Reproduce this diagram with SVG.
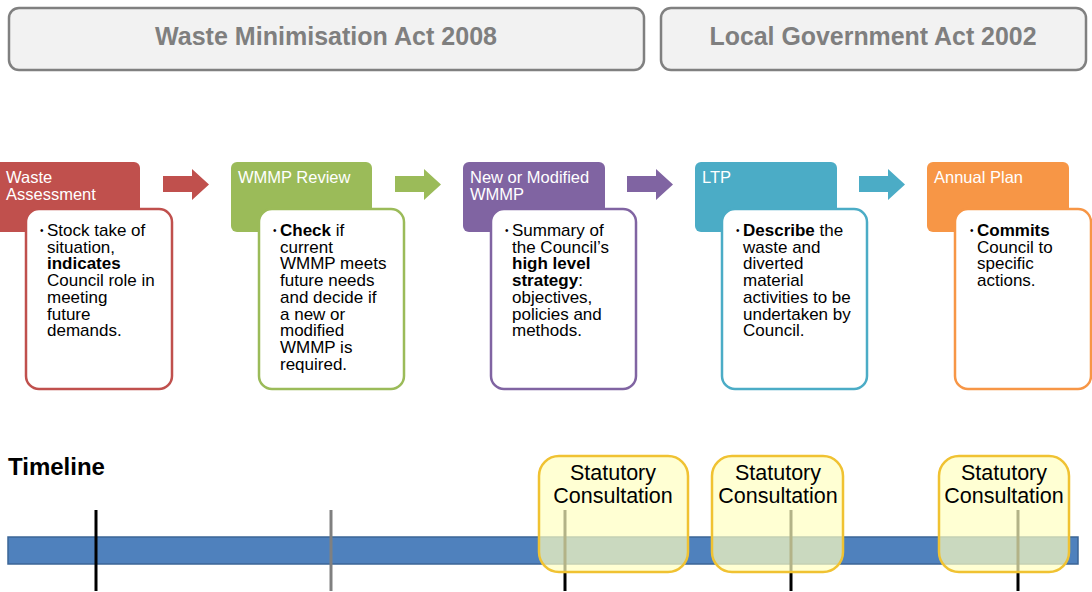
<svg xmlns="http://www.w3.org/2000/svg" width="1092" height="592" viewBox="0 0 1092 592">
<style>
.act{fill:#f2f2f2;stroke:#808080;stroke-width:2.5}
.acttxt{font-family:"Liberation Sans",Arial,sans-serif;font-weight:bold;font-size:25px;fill:#7f7f7f;text-anchor:middle}
.hdr{font-family:"Liberation Sans",Arial,sans-serif;font-size:16.5px;fill:#ffffff}
.body{font-family:"Liberation Sans",Arial,sans-serif;font-size:17px;fill:#000000}
.b{font-weight:bold}
.bul{font-size:10px}
.inner{fill:#ffffff;stroke-width:2.5}
.cons{fill:#ffffc0;fill-opacity:0.7;stroke:#f0c232;stroke-width:2.5}
.constxt{font-family:"Liberation Sans",Arial,sans-serif;font-size:21.5px;fill:#000000;text-anchor:middle}
</style>
<rect width="1092" height="592" fill="#ffffff"/>

<g id="act-wma">
<rect class="act" x="9" y="8" width="635" height="62" rx="10"/>
<text class="acttxt" x="326" y="45" textLength="342" lengthAdjust="spacingAndGlyphs">Waste Minimisation Act 2008</text>
</g>
<g id="act-lga">
<rect class="act" x="661" y="8" width="425" height="62" rx="10"/>
<text class="acttxt" x="873" y="45" textLength="327" lengthAdjust="spacingAndGlyphs">Local Government Act 2002</text>
</g>

<g id="connectors">
<polygon points="163,176 192,176 192,169 209,184.5 192,200 192,192 163,192" fill="#c0504d"/>
<polygon points="395,176 424,176 424,169 441,184.5 424,200 424,192 395,192" fill="#9bbb59"/>
<polygon points="627,176 656,176 656,169 673,184.5 656,200 656,192 627,192" fill="#8064a2"/>
<polygon points="859,176 888,176 888,169 905,184.5 888,200 888,192 859,192" fill="#4bacc6"/>
</g>

<g id="node-waste-assessment">
<rect x="-8" y="162" width="148" height="70" rx="6" fill="#c0504d"/>
<text class="hdr" x="6" y="183">Waste</text>
<text class="hdr" x="6" y="200">Assessment</text>
<rect class="inner" x="26" y="209" width="146" height="180" rx="13" stroke="#c0504d"/>
<text class="body" x="47" y="236"><tspan class="bul" x="40" dy="-2">•</tspan><tspan x="47" dy="2">Stock take of</tspan><tspan x="47" dy="16.7">situation,</tspan><tspan x="47" dy="16.7" class="b">indicates</tspan><tspan x="47" dy="16.7">Council role in</tspan><tspan x="47" dy="16.7">meeting</tspan><tspan x="47" dy="16.7">future</tspan><tspan x="47" dy="16.7">demands.</tspan></text>
</g>

<g id="node-wmmp-review">
<rect x="231" y="162" width="141" height="70" rx="6" fill="#9bbb59"/>
<text class="hdr" x="238" y="183">WMMP Review</text>
<rect class="inner" x="259" y="209" width="145" height="180" rx="13" stroke="#9bbb59"/>
<text class="body" x="280" y="236"><tspan class="bul" x="273" dy="-2">•</tspan><tspan x="280" dy="2"><tspan class="b">Check</tspan> if</tspan><tspan x="280" dy="16.7">current</tspan><tspan x="280" dy="16.7">WMMP meets</tspan><tspan x="280" dy="16.7">future needs</tspan><tspan x="280" dy="16.7">and decide if</tspan><tspan x="280" dy="16.7">a new or</tspan><tspan x="280" dy="16.7">modified</tspan><tspan x="280" dy="16.7">WMMP is</tspan><tspan x="280" dy="16.7">required.</tspan></text>
</g>

<g id="node-new-wmmp">
<rect x="463" y="162" width="142" height="70" rx="6" fill="#8064a2"/>
<text class="hdr" x="470" y="183">New or Modified</text>
<text class="hdr" x="470" y="200">WMMP</text>
<rect class="inner" x="491" y="209" width="145" height="180" rx="13" stroke="#8064a2"/>
<text class="body" x="512" y="236"><tspan class="bul" x="505" dy="-2">•</tspan><tspan x="512" dy="2">Summary of</tspan><tspan x="512" dy="16.7">the Council’s</tspan><tspan x="512" dy="16.7" class="b">high level</tspan><tspan x="512" dy="16.7"><tspan class="b">strategy</tspan>:</tspan><tspan x="512" dy="16.7">objectives,</tspan><tspan x="512" dy="16.7">policies and</tspan><tspan x="512" dy="16.7">methods.</tspan></text>
</g>

<g id="node-ltp">
<rect x="695" y="162" width="142" height="70" rx="6" fill="#4bacc6"/>
<text class="hdr" x="702" y="183">LTP</text>
<rect class="inner" x="722" y="209" width="145" height="180" rx="13" stroke="#4bacc6"/>
<text class="body" x="743" y="236"><tspan class="bul" x="736" dy="-2">•</tspan><tspan x="743" dy="2"><tspan class="b">Describe</tspan> the</tspan><tspan x="743" dy="16.7">waste and</tspan><tspan x="743" dy="16.7">diverted</tspan><tspan x="743" dy="16.7">material</tspan><tspan x="743" dy="16.7">activities to be</tspan><tspan x="743" dy="16.7">undertaken by</tspan><tspan x="743" dy="16.7">Council.</tspan></text>
</g>

<g id="node-annual-plan">
<rect x="927" y="162" width="142" height="70" rx="6" fill="#f79646"/>
<text class="hdr" x="934" y="183">Annual Plan</text>
<rect class="inner" x="955" y="209" width="136" height="180" rx="13" stroke="#f79646"/>
<text class="body" x="977" y="236"><tspan class="bul" x="970" dy="-2">•</tspan><tspan x="977" dy="2" class="b">Commits</tspan><tspan x="977" dy="16.7">Council to</tspan><tspan x="977" dy="16.7">specific</tspan><tspan x="977" dy="16.7">actions.</tspan></text>
</g>

<g id="timeline">
<text x="8" y="475" font-family="Liberation Sans, Arial, sans-serif" font-weight="bold" font-size="24px" fill="#000">Timeline</text>
<rect x="8" y="537" width="1070" height="27" fill="#4f81bd" stroke="#3b6597" stroke-width="1.5"/>
<line x1="96" y1="510" x2="96" y2="591" stroke="#000" stroke-width="3"/>
<line x1="331" y1="510" x2="331" y2="591" stroke="#808080" stroke-width="3"/>
<line x1="565" y1="510" x2="565" y2="591" stroke="#000" stroke-width="3"/>
<line x1="791" y1="510" x2="791" y2="591" stroke="#000" stroke-width="3"/>
<line x1="1018" y1="510" x2="1018" y2="591" stroke="#000" stroke-width="3"/>
</g>

<g id="consult-1">
<rect class="cons" x="539" y="456" width="149" height="116" rx="20"/>
<text class="constxt" x="613" y="480">Statutory</text>
<text class="constxt" x="613" y="503">Consultation</text>
</g>
<g id="consult-2">
<rect class="cons" x="712" y="456" width="131" height="116" rx="20"/>
<text class="constxt" x="778" y="480">Statutory</text>
<text class="constxt" x="778" y="503">Consultation</text>
</g>
<g id="consult-3">
<rect class="cons" x="939" y="456" width="130" height="116" rx="20"/>
<text class="constxt" x="1004" y="480">Statutory</text>
<text class="constxt" x="1004" y="503">Consultation</text>
</g>
</svg>
